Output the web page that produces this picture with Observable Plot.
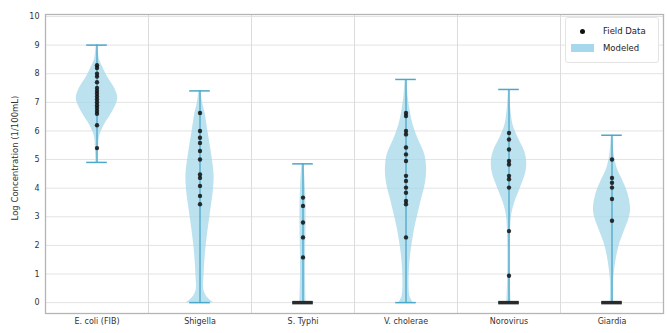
<!DOCTYPE html>
<html>
<head>
<meta charset="utf-8">
<script src="https://cdn.jsdelivr.net/npm/d3@7"></script>
<script src="https://cdn.jsdelivr.net/npm/@observablehq/plot@0.6"></script>
<style>
  html, body { margin: 0; padding: 0; background: #fff; }
  #wrap { position: relative; width: 667px; height: 333px; font-family: "DejaVu Sans", sans-serif; }
  #legend { position: absolute; left: 565px; top: 17px; width: 94px; height: 46px; background: #fff;
            border: 1px solid #e4e4e4; border-radius: 3px; box-sizing: border-box; font-size: 8.5px; color: #222; }
  .row { position: absolute; left: 0; display: flex; align-items: center; }
  .dot { width: 5px; height: 5px; border-radius: 50%; background: #111; margin-left: 14px; margin-right: 18px; }
  .patch { width: 23px; height: 8px; background: #a6d7ea; margin-left: 5px; margin-right: 9px; }
  #ylabel { position: absolute; left: 15px; top: 158px; transform: translate(-50%, -50%) rotate(-90deg);
            white-space: nowrap; font-size: 8.5px; color: #333; }
</style>
</head>
<body>
<div id="wrap">
  <div id="chart"></div>
  <div id="ylabel">Log Concentration (1/100mL)</div>
  <div id="legend">
    <div class="row" style="top:8px"><div class="dot"></div><span>Field Data</span></div>
    <div class="row" style="top:25px"><div class="patch"></div><span>Modeled</span></div>
  </div>
</div>
<script>
const categories = ["E. coli (FIB)", "Shigella", "S. Typhi", "V. cholerae", "Norovirus", "Giardia"];
const yTicks = [0,1,2,3,4,5,6,7,8,9,10];

// Modeled distribution: [value, relative density width]
const ecoliModel = [[4.9,0.05],[5.4,0.08],[5.8,0.12],[6.2,0.35],[6.6,0.7],[7.0,0.97],[7.2,1.0],[7.5,0.85],[7.9,0.5],[8.2,0.3],[8.5,0.12],[9.0,0.04]];
const shigellaModel = [[0,0.65],[0.15,0.4],[0.4,0.2],[1.0,0.2],[2.0,0.3],[3.0,0.48],[4.0,0.66],[4.5,0.68],[5.2,0.56],[6.0,0.38],[6.6,0.25],[7.0,0.12],[7.4,0.05]];
const typhiModel = [[0,0.15],[1,0.12],[2,0.13],[3,0.15],[4,0.12],[4.85,0.05]];
const choleraeModel = [[0,0.35],[0.2,0.2],[0.6,0.15],[1.5,0.2],[2.5,0.4],[3.0,0.55],[3.6,0.75],[4.2,0.95],[4.7,1.0],[5.2,0.9],[5.7,0.6],[6.2,0.35],[6.7,0.2],[7.2,0.1],[7.8,0.04]];
const norovirusModel = [[0,0.1],[1,0.06],[2,0.06],[3,0.12],[3.5,0.28],[4.0,0.55],[4.5,0.8],[4.9,0.86],[5.3,0.75],[5.8,0.42],[6.2,0.2],[6.8,0.08],[7.45,0.03]];
const giardiaModel = [[0,0.08],[0.8,0.08],[1.5,0.2],[2.0,0.35],[2.5,0.6],[3.0,0.85],[3.3,0.9],[3.8,0.78],[4.3,0.5],[4.7,0.25],[5.2,0.1],[5.85,0.03]];

// Field data (log concentration)
const ecoliField = [8.3,8.2,8.0,7.9,7.7,7.5,7.4,7.3,7.2,7.1,7.0,6.9,6.8,6.7,6.6,6.2,5.4];
const shigellaField = [6.63,6.0,5.76,5.58,5.3,5.0,4.48,4.36,4.08,3.73,3.44];
const typhiField = [3.67,3.38,2.8,2.28,1.58,0,0,0,0];
const choleraeField = [6.63,6.52,6.0,5.88,5.42,5.18,4.95,4.43,4.25,4.02,3.84,3.55,3.44,2.28];
const norovirusField = [5.93,5.7,5.35,4.95,4.83,4.43,4.31,4.02,2.5,0.94,0,0,0];
const giardiaField = [5.0,4.36,4.19,4.02,3.62,2.86,0,0,0];

const models = [ecoliModel, shigellaModel, typhiModel, choleraeModel, norovirusModel, giardiaModel];
const fields = [ecoliField, shigellaField, typhiField, choleraeField, norovirusField, giardiaField];

const W = 0.2;      // half-width of a density of 1, in category units
const CAP = 0.1;    // half-width of min/max caps

const violinRows = models.flatMap((m, i) => m.map(([v, d]) => ({cat: i, v, d})));
const extremes = models.map((m, i) => ({cat: i, lo: m[0][0], hi: m[m.length - 1][0]}));
const fieldRows = fields.flatMap((f, i) => f.filter(v => v > 0).map(v => ({cat: i, v})));
const zeroRows = fields.map((f, i) => ({cat: i, n: f.filter(v => v === 0).length})).filter(d => d.n > 0);

const lineColor = "#4aa8c9";
const bodyColor = "#a6d7ea";

const chart = Plot.plot({
  width: 667,
  height: 333,
  marginLeft: 45,
  marginRight: 4,
  marginTop: 14,
  marginBottom: 20,
  style: {fontFamily: "DejaVu Sans, sans-serif", fontSize: "8px", color: "#333", background: "#fff"},
  x: {domain: [-0.5, 5.5], ticks: d3.range(categories.length), tickFormat: i => categories[i], tickSize: 0, tickPadding: 5, label: null},
  y: {domain: [-0.38, 10.07], ticks: yTicks, tickSize: 0, tickPadding: 6, label: null},
  marks: [
    Plot.ruleY(yTicks, {stroke: "#e3e3e3", strokeWidth: 1}),
    Plot.ruleX(d3.range(categories.length - 1).map(i => i + 0.5), {stroke: "#dcdcdc", strokeWidth: 1}),
    Plot.areaX(violinRows, {z: "cat", y: "v", x1: d => d.cat - W * d.d, x2: d => d.cat + W * d.d, fill: bodyColor, fillOpacity: 0.75, curve: "catmull-rom"}),
    Plot.ruleX(extremes, {x: "cat", y1: "lo", y2: "hi", stroke: lineColor, strokeWidth: 1.3}),
    Plot.ruleY(extremes, {y: "hi", x1: d => d.cat - CAP, x2: d => d.cat + CAP, stroke: lineColor, strokeWidth: 1.5}),
    Plot.ruleY(extremes, {y: "lo", x1: d => d.cat - CAP, x2: d => d.cat + CAP, stroke: lineColor, strokeWidth: 1.5}),
    Plot.ruleY(zeroRows, {y: 0, x1: d => d.cat - CAP, x2: d => d.cat + CAP, stroke: "#2a2a2a", strokeWidth: 3.5}),
    Plot.dot(fieldRows, {x: "cat", y: "v", r: 2.2, fill: "#111", stroke: "none", fillOpacity: 0.85}),
    Plot.frame({stroke: "#b5b5b5", strokeWidth: 1.3})
  ]
});
document.getElementById("chart").appendChild(chart);
</script>
</body>
</html>
